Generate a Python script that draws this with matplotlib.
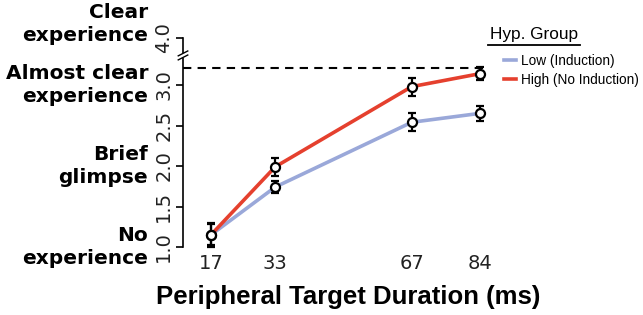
import matplotlib
matplotlib.use("Agg")
import matplotlib.pyplot as plt
from matplotlib.lines import Line2D
import matplotlib.transforms as mtransforms

# ---- data ----
durations = [17, 33, 67, 84]
low_mean = [1.15, 1.74, 2.54, 2.65]
low_err = [0.15, 0.07, 0.11, 0.09]
high_mean = [1.15, 1.99, 2.98, 3.14]
high_err = [0.13, 0.11, 0.11, 0.08]
ceiling = 3.21  # dashed reference line

ytick_pos = [1.0, 1.5, 2.0, 2.5, 3.0, 3.584]
ytick_labels = ["1.0", "1.5", "2.0", "2.5", "3.0", "4.0"]
cat_pos = [1.0, 2.0, 3.0, 3.753]
cat_labels = ["No\nexperience", "Brief\nglimpse", "Almost clear\nexperience", "Clear\nexperience"]
series_labels = ["Low (Induction)", "High (No Induction)"]
colors = ["#9AA8D9", "#E5402E"]

W, H = 643, 315
fig = plt.figure(figsize=(W / 100, H / 100), dpi=100)
ax_left, ax_right = 183 / W, 500 / W
ax_bottom = 1 - 255.1 / H
ax_h = (255.1 - 28.3) / H
ax = fig.add_axes([ax_left, ax_bottom, ax_right - ax_left, ax_h])
ax.set_xlim(10.03, 88.98)
ax.set_ylim(0.9, 3.7)

for sp in ["top", "right", "bottom"]:
    ax.spines[sp].set_visible(False)
ax.spines["left"].set_bounds(ytick_pos[0], ytick_pos[-1])
ax.spines["left"].set_linewidth(1.2)

# dashed line
ax.plot([10.03, 84.7], [ceiling, ceiling], color="black", ls=(0, (4, 3)), lw=1.5, zorder=1)

for mean, c in [(low_mean, colors[0]), (high_mean, colors[1])]:
    ax.plot(durations, mean, color=c, lw=2.6, zorder=2, solid_capstyle="butt")
for mean, err in [(low_mean, low_err), (high_mean, high_err)]:
    ax.errorbar(durations, mean, yerr=err, fmt="o", mfc="white", mec="black", mew=1.6,
                ms=6.5, ecolor="black", elinewidth=1.6, capsize=3, capthick=1.6,
                zorder=4, clip_on=False)

# axis break marks
trans = mtransforms.blended_transform_factory(ax.transAxes, ax.transData)
ax.add_patch(plt.Rectangle((-0.01, 3.33), 0.02, 0.06, transform=trans,
                           facecolor="white", edgecolor="none", zorder=5, clip_on=False))
for dy in (0.0, 0.05):
    ax.plot([-0.015, 0.015], [3.31 + dy, 3.37 + dy], transform=trans, color="black",
            lw=1.0, clip_on=False, zorder=6)

ax.set_yticks(ytick_pos)
ax.set_yticklabels(ytick_labels, rotation=90, va="center", fontsize=14, color="#222222")
ax.tick_params(axis="y", direction="out", length=5, width=1.2, pad=2)
ax.set_xticks(durations)
ax.set_xticklabels([str(d) for d in durations], fontsize=14, color="#222222")
ax.tick_params(axis="x", length=0, pad=-1)

fig.text(348 / W, 1 - 297 / H, "Peripheral Target Duration (ms)", fontsize=18.5,
         fontweight="bold", family="Liberation Sans", ha="center", va="center")

# category labels
ctrans = mtransforms.blended_transform_factory(fig.transFigure, ax.transData)
for p, lab in zip(cat_pos, cat_labels):
    ax.text(148 / W, p, lab, transform=ctrans, ha="right", va="center",
            fontsize=14.5, fontweight="bold", linespacing=1.3)

# legend
handles = [Line2D([], [], color=c, lw=2.6) for c in colors]
ax.legend(handles, series_labels, loc="upper left",
          bbox_to_anchor=(504 / W, 1 - 54 / H), bbox_transform=fig.transFigure,
          frameon=False, handlelength=0.9, handletextpad=0.35, borderpad=0,
          borderaxespad=0, labelspacing=0.35,
          prop={"family": "Liberation Sans", "size": 9.8})
fig.text(534 / W, 1 - 35 / H, "Hyp. Group", ha="center", va="center",
         fontsize=12.4, family="Liberation Sans")
fig.add_artist(Line2D([488 / W, 580 / W], [1 - 44.5 / H, 1 - 44.5 / H],
                      color="black", lw=1.3, transform=fig.transFigure))

fig.savefig("out.png", dpi=100)
